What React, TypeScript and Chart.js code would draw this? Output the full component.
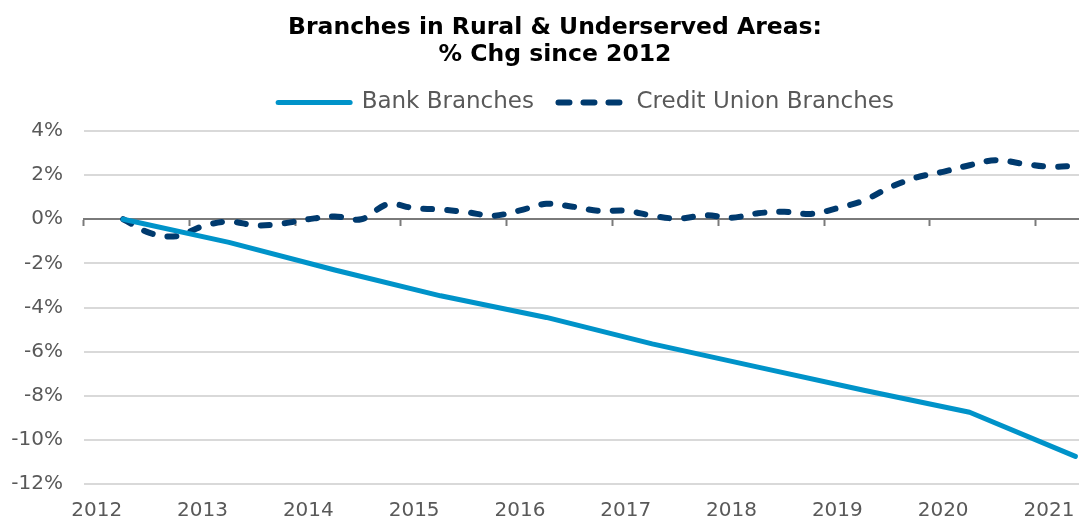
import { useEffect, useRef } from "react";
import { Chart, registerables } from "chart.js";

Chart.register(...registerables);

// Quarterly categories (2012 Q1 .. 2021 Q2)
const quarters = [
  "2012Q1", "2012Q2", "2012Q3", "2012Q4",
  "2013Q1", "2013Q2", "2013Q3", "2013Q4",
  "2014Q1", "2014Q2", "2014Q3", "2014Q4",
  "2015Q1", "2015Q2", "2015Q3", "2015Q4",
  "2016Q1", "2016Q2", "2016Q3", "2016Q4",
  "2017Q1", "2017Q2", "2017Q3", "2017Q4",
  "2018Q1", "2018Q2", "2018Q3", "2018Q4",
  "2019Q1", "2019Q2", "2019Q3", "2019Q4",
  "2020Q1", "2020Q2", "2020Q3", "2020Q4",
  "2021Q1", "2021Q2",
];

const yearLabels = ["2012", "2013", "2014", "2015", "2016", "2017", "2018", "2019", "2020", "2021"];

// Bank branches: annual (June) observations, % change since 2012
const bankBranches = [
  null, 0, null, null,
  null, -1.05, null, null,
  null, -2.3, null, null,
  null, -3.47, null, null,
  null, -4.45, null, null,
  null, -5.65, null, null,
  null, -6.7, null, null,
  null, -7.75, null, null,
  null, -8.75, null, null,
  null, -10.75,
];

// Credit union branches: quarterly, % change since 2012
const creditUnionBranches = [
  null, 0, -0.62, -0.77,
  -0.32, -0.1, -0.28, -0.2,
  0.0, 0.13, 0.0, 0.68,
  0.5, 0.44, 0.32, 0.16,
  0.4, 0.7, 0.57, 0.38,
  0.39, 0.16, 0.03, 0.18,
  0.07, 0.27, 0.34, 0.24,
  0.5, 0.85, 1.45, 1.9,
  2.15, 2.45, 2.68, 2.52,
  2.38, 2.42,
];

const yTickMin = -12;
const yTickMax = 4;
const yTickStep = 2;

const FONT = "'DejaVu Sans', sans-serif";
const TEXT_GRAY = "#595959";

export default function App() {
  const canvasRef = useRef<HTMLCanvasElement | null>(null);

  useEffect(() => {
    if (!canvasRef.current) return;
    Chart.defaults.font.family = FONT;
    const chart = new Chart(canvasRef.current, {
      type: "line",
      data: {
        labels: quarters,
        datasets: [
          {
            label: "Bank Branches",
            data: bankBranches,
            borderColor: "#0093C9",
            backgroundColor: "#0093C9",
            borderWidth: 5,
            borderCapStyle: "round",
            borderJoinStyle: "round",
            pointRadius: 0,
            pointHoverRadius: 0,
            tension: 0,
            spanGaps: true,
          },
          {
            label: "Credit Union Branches",
            data: creditUnionBranches,
            borderColor: "#003A6E",
            backgroundColor: "#003A6E",
            borderWidth: 6,
            borderDash: [9, 15],
            borderCapStyle: "round",
            borderJoinStyle: "round",
            pointRadius: 0,
            pointHoverRadius: 0,
            tension: 0.35,
            spanGaps: true,
          },
        ],
      },
      options: {
        animation: false,
        responsive: true,
        maintainAspectRatio: false,
        layout: { padding: { left: 0, right: 0, top: 0, bottom: 0 } },
        plugins: {
          title: {
            display: true,
            text: ["Branches in Rural & Underserved Areas:", "% Chg since 2012"],
            color: "#000000",
            font: { family: FONT, size: 23.5, weight: "bold", lineHeight: "27px" },
            padding: { top: 14.5, bottom: 3.5 },
          },
          legend: {
            display: true,
            position: "top",
            fullSize: false,
            labels: {
              usePointStyle: true,
              pointStyle: "line",
              pointStyleWidth: 72,
              color: TEXT_GRAY,
              font: { family: FONT, size: 23 },
              padding: 19,
              generateLabels: (c: any) =>
                c.data.datasets.map((ds: any, i: number) => ({
                  text: ds.label,
                  fillStyle: ds.borderColor,
                  strokeStyle: ds.borderColor,
                  fontColor: TEXT_GRAY,
                  lineWidth: ds.borderWidth,
                  lineDash: ds.borderDash ? [11, 14] : [],
                  lineDashOffset: ds.borderDash ? -5.5 : 0,
                  lineCap: "round",
                  lineJoin: "round",
                  pointStyle: "line",
                  rotation: 0,
                  hidden: false,
                  datasetIndex: i,
                })),
            },
          },
          subtitle: {
            display: true,
            text: "",
            weight: 500,
            font: { size: 1, lineHeight: 1 },
            padding: { top: 6, bottom: 0 },
          },
          tooltip: { enabled: false },
        },
        scales: {
          x: {
            type: "category",
            offset: true,
            grid: { display: false, drawTicks: false },
            border: { display: false },
            ticks: {
              autoSkip: false,
              maxRotation: 0,
              minRotation: 0,
              padding: 15,
              color: TEXT_GRAY,
              font: { family: FONT, size: 20 },
              callback: (_v: any, i: number) => (i % 4 === 0 ? yearLabels[i / 4] : ""),
            },
            afterFit: (s: any) => {
              s.height = 37;
            },
          },
          x2: {
            type: "category",
            position: { y: 0 },
            offset: true,
            grid: {
              offset: true,
              drawOnChartArea: false,
              drawTicks: true,
              tickLength: 6,
              tickWidth: 2,
              tickColor: (c: any) =>
                c.index !== undefined && c.index % 4 === 0 ? "#7a7a7a" : "rgba(0,0,0,0)",
            },
            border: { display: true, color: "#7a7a7a", width: 2 },
            ticks: { display: false },
          },
          y: {
            min: yTickMin,
            max: yTickMax,
            ticks: {
              stepSize: yTickStep,
              padding: 20.5,
              color: TEXT_GRAY,
              font: { family: FONT, size: 20 },
              callback: (v: any) => `${v}%`,
            },
            grid: {
              drawTicks: false,
              lineWidth: 2,
              color: (c: any) => (c.tick && c.tick.value === 0 ? "rgba(0,0,0,0)" : "#d9d9d9"),
            },
            border: { display: false },
            afterFit: (s: any) => {
              s.width = 83.5;
            },
          },
          yRight: {
            type: "linear",
            position: "right",
            display: true,
            grid: { display: false, drawOnChartArea: false, drawTicks: false },
            border: { display: false },
            ticks: { display: false },
            afterFit: (s: any) => {
              s.width = 21.4;
            },
          },
        },
      },
    } as any);
    return () => chart.destroy();
  }, []);

  return (
    <div
      style={{
        position: "fixed",
        left: 0,
        top: 0,
        width: "1079px",
        height: "521px",
        overflow: "hidden",
        background: "#ffffff",
      }}
    >
      <div style={{ width: "1110px", height: "521px", position: "relative" }}>
        <canvas ref={canvasRef} />
      </div>
    </div>
  );
}
